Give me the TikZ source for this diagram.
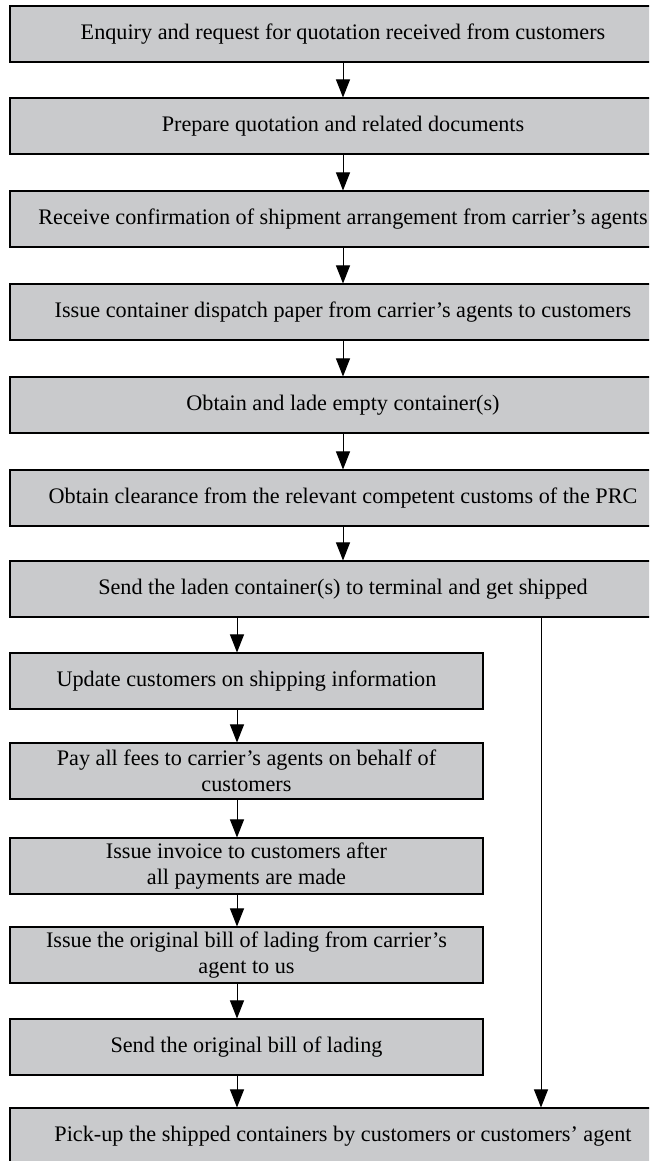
\documentclass[tikz,border=0pt]{standalone}
\usepackage{fontspec}
\setmainfont{Liberation Serif}
\usetikzlibrary{arrows.meta,calc}
\definecolor{boxgray}{RGB}{201,202,204}
\begin{document}
\begin{tikzpicture}[x=1pt,y=-1pt,
  stepbox/.style={draw=black, line width=1.1pt, fill=boxgray, rectangle,
    minimum height=56pt, inner sep=0pt, align=center,
    font=\fontsize{22.2}{26}\selectfont},
  widebox/.style={stepbox, minimum width=666pt},
  narrowbox/.style={stepbox, minimum width=473pt},
  arr/.style={line width=1pt, -{Triangle[length=18pt,width=14pt]}}]
\clip (0,0) rectangle (649,1161);
\fill[white] (0,0) rectangle (649,1161);
\coordinate (lcol) at (237,0);
\coordinate (rcol) at (541,0);
\node[widebox] (b1) at (343,34) {Enquiry and request for quotation received from customers};
\node[widebox] (b2) at (343,126) {Prepare quotation and related documents};
\node[widebox] (b3) at (343,219) {Receive confirmation of shipment arrangement from carrier's agents};
\node[widebox] (b4) at (343,312) {Issue container dispatch paper from carrier's agents to customers};
\node[widebox] (b5) at (343,405) {Obtain and lade empty container(s)};
\node[widebox] (b6) at (343,498) {Obtain clearance from the relevant competent customs of the PRC};
\node[widebox] (b7) at (343,589) {Send the laden container(s) to terminal and get shipped};
\node[narrowbox] (c1) at (246.5,681) {Update customers on shipping information};
\node[narrowbox] (c2) at (246.5,771) {Pay all fees to carrier's agents on behalf of\\customers};
\node[narrowbox] (c3) at (246.5,866) {Issue invoice to customers after\\all payments are made};
\node[narrowbox] (c4) at (246.5,955) {Issue the original bill of lading from carrier's\\agent to us};
\node[narrowbox] (c5) at (246.5,1047) {Send the original bill of lading};
\node[widebox] (p) at (343,1136) {Pick-up the shipped containers by customers or customers' agent};
\draw[arr] (b1.south) -- (b2.north);
\draw[arr] (b2.south) -- (b3.north);
\draw[arr] (b3.south) -- (b4.north);
\draw[arr] (b4.south) -- (b5.north);
\draw[arr] (b5.south) -- (b6.north);
\draw[arr] (b6.south) -- (b7.north);
\draw[arr] (b7.south -| lcol) -- (c1.north -| lcol);
\draw[arr] (c1.south -| lcol) -- (c2.north -| lcol);
\draw[arr] (c2.south -| lcol) -- (c3.north -| lcol);
\draw[arr] (c3.south -| lcol) -- (c4.north -| lcol);
\draw[arr] (c4.south -| lcol) -- (c5.north -| lcol);
\draw[arr] (c5.south -| lcol) -- (p.north -| lcol);
\draw[arr] (b7.south -| rcol) -- (p.north -| rcol);
\end{tikzpicture}
\end{document}
